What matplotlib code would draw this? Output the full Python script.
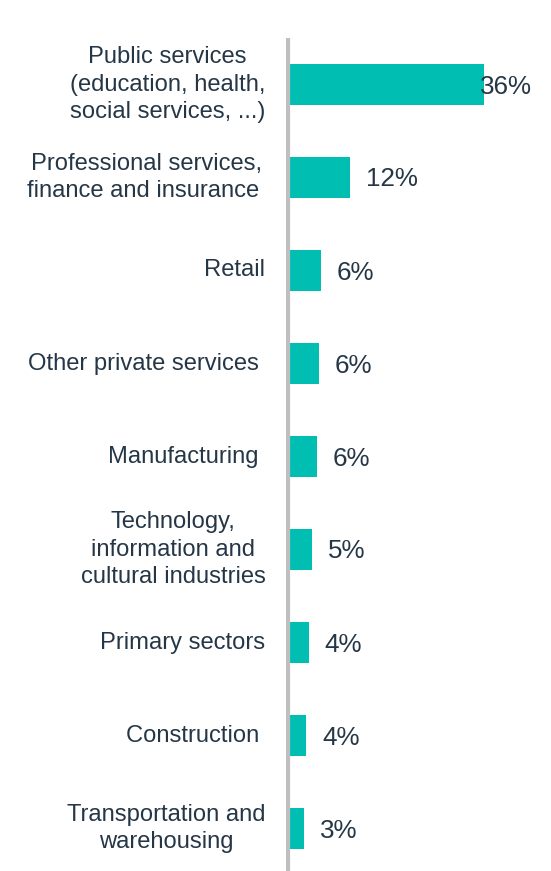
import matplotlib
matplotlib.use("Agg")
import matplotlib.pyplot as plt

categories = [
    "Public services\n(education, health,\nsocial services, ...)",
    "Professional services,\nfinance and insurance ",
    "Retail",
    "Other private services ",
    "Manufacturing ",
    "Technology,\ninformation and\ncultural industries",
    "Primary sectors",
    "Construction ",
    "Transportation and\nwarehousing",
]
values = [36, 11.7, 6.4, 6.1, 5.7, 4.8, 4.2, 3.8, 3.4]
value_labels = ["36%", "12%", "6%", "6%", "6%", "5%", "4%", "4%", "3%"]

BAR = "#00BFB2"
TXT = "#253746"
AXIS = "#BFBFBF"

plt.rcParams['font.family'] = ['Liberation Sans', 'DejaVu Sans']

W, H, DPI = 551, 871, 100
fig = plt.figure(figsize=(W / DPI, H / DPI), dpi=DPI)
x0 = 285.5
px_per_unit = 5.51
top_px, bot_px = 38, 875
ax = fig.add_axes([x0 / W, (H - bot_px) / H, (W - x0) / W, (bot_px - top_px) / H])
ax.set_xlim(0, (W - x0) / px_per_unit)
ax.set_ylim(len(categories) - 0.5, -0.5)

ypos = list(range(len(categories)))
ax.barh(ypos, values, height=0.45, color=BAR, zorder=2)
ax.axvline(0, color=AXIS, lw=5.2, zorder=3)

for s in ax.spines.values():
    s.set_visible(False)
ax.set_xticks([])
ax.set_yticks([])

fig.canvas.draw()
renderer = fig.canvas.get_renderer()
for i, (cat, v, lab) in enumerate(zip(categories, values, value_labels)):
    ax.annotate(cat, xy=(0, i), xytext=(-20, 0), textcoords='offset pixels',
                ha='right', va='center', multialignment='center',
                fontsize=17.1, color=TXT, linespacing=1.33)
    t = ax.annotate(lab, xy=(v, i), xytext=(16, -2), textcoords='offset pixels',
                    ha='left', va='center', fontsize=18.7, color=TXT, zorder=4)
    bb = t.get_window_extent(renderer)
    limit = 532
    if bb.x1 > limit:
        t.set_position((16 - (bb.x1 - limit), -2))

fig.savefig("out.png", dpi=DPI)
